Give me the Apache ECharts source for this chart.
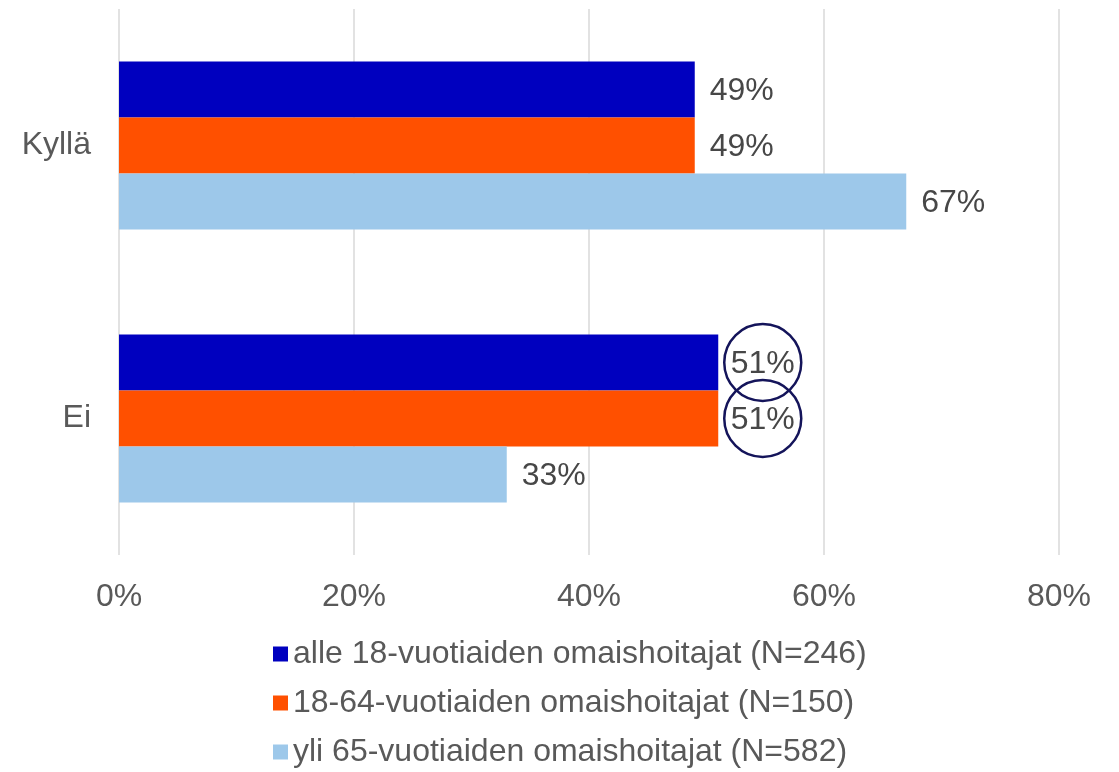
<!DOCTYPE html>
<html>
<head>
<meta charset="utf-8">
<script src="https://cdn.jsdelivr.net/npm/echarts@6/dist/echarts.min.js"></script>
<style>
  html, body { margin: 0; padding: 0; background: #fff; }
  #chart { width: 1119px; height: 772px; }
</style>
</head>
<body>
<div id="chart"></div>
<script>
var categories = ['Kyllä', 'Ei'];
var seriesNames = [
  'alle 18-vuotiaiden omaishoitajat (N=246)',
  '18-64-vuotiaiden omaishoitajat (N=150)',
  'yli 65-vuotiaiden omaishoitajat (N=582)'
];
var alle18 = [49, 51];
var ika18_64 = [49, 51];
var yli65 = [67, 33];
// arvot joiden ympärille piirretään ympyrä
var circled = [[false, true], [false, true], [false, false]];

var colors = ['#0000BF', '#FF5000', '#9DC8EA'];
var textColor = '#595959';
var labelColor = '#474747';
var font = 'Liberation Sans, Arial, sans-serif';

function makeData(values, si) {
  return values.map(function (v, i) {
    if (!circled[si][i]) return v;
    return {
      value: v,
      label: {
        formatter: '{c|{c}%}',
        distance: 6,
        offset: [0, 0],
        borderColor: '#14145A',
        borderWidth: 2.5,
        borderRadius: 39,
        rich: {
          c: {
            width: 77, height: 77, lineHeight: 77,
            align: 'center', verticalAlign: 'middle',
            fontSize: 32, color: labelColor, fontFamily: font,
            padding: [4, 0, 0, 0]
          }
        }
      }
    };
  });
}

var allValues = [alle18, ika18_64, yli65];
var series = allValues.map(function (vals, si) {
  return {
    name: seriesNames[si],
    type: 'bar',
    data: makeData(vals, si),
    barWidth: 56,
    barGap: '0%',
    itemStyle: { color: colors[si] },
    label: {
      show: true,
      position: 'right',
      distance: 15,
      offset: [0, 2],
      formatter: '{c}%',
      fontSize: 32,
      color: labelColor,
      fontFamily: font
    }
  };
});

var chart = echarts.init(document.getElementById('chart'));
chart.setOption({
  animation: false,
  color: colors,
  textStyle: { fontFamily: font },
  grid: { left: 119, right: 60, top: 9, bottom: 217, containLabel: false },
  legend: {
    orient: 'vertical',
    left: 268,
    top: 633,
    height: 150,
    itemWidth: 15,
    itemHeight: 15,
    itemGap: 17,
    icon: 'rect',
    textStyle: { fontSize: 32, color: textColor, fontFamily: font },
    data: seriesNames
  },
  xAxis: {
    type: 'value',
    min: 0,
    max: 80,
    interval: 20,
    axisLine: { show: false },
    axisTick: { show: false },
    splitLine: { show: true, lineStyle: { color: '#D9D9D9', width: 1.5 } },
    axisLabel: { formatter: '{value}%', fontSize: 32, color: textColor, margin: 26, fontFamily: font }
  },
  yAxis: {
    type: 'category',
    inverse: true,
    data: categories,
    axisLine: { show: false },
    axisTick: { show: false },
    axisLabel: { fontSize: 32, color: textColor, margin: 28, fontFamily: font, padding: [8, 0, 0, 0] }
  },
  series: series
});
window.addEventListener('resize', function () { chart.resize(); });
</script>
</body>
</html>
